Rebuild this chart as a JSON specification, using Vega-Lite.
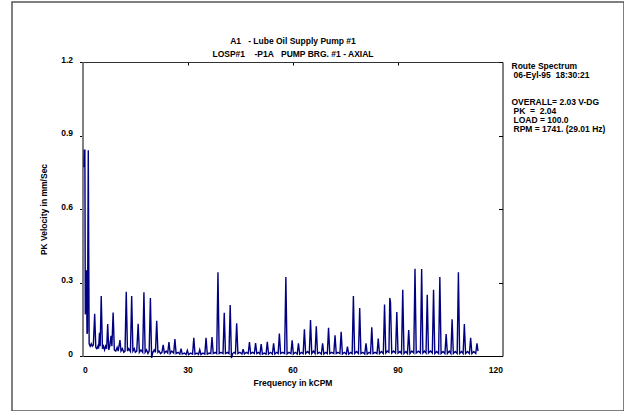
{
  "$schema": "https://vega.github.io/schema/vega-lite/v6.json",
  "width": 612,
  "height": 409,
  "padding": {"left": 12, "top": 2, "right": 0, "bottom": 0},
  "autosize": {"type": "none"},
  "background": "white",
  "config": {
    "view": {"stroke": "#555555", "strokeWidth": 1.5},
    "font": "Liberation Sans",
    "text": {"font": "Liberation Sans", "fontWeight": "bold", "fontSize": 8.5, "lineHeight": 9, "color": "#000000", "align": "left", "baseline": "top"},
    "axis": {
      "labelFont": "Liberation Sans", "labelFontWeight": "bold", "labelFontSize": 8.5, "labelColor": "#000000",
      "titleFont": "Liberation Sans", "titleFontWeight": "bold", "titleFontSize": 8.5, "titleColor": "#000000",
      "grid": false, "tickColor": "#000000", "domainColor": "#000000", "domainWidth": 1, "tickWidth": 1
    }
  },
  "datasets": {
    "info": [{"block": "header"}]
  },
  "layer": [
    {
      "data": {"values": [
        {"f":0.4,"v":0.77},{"f":0.5,"v":0.84},{"f":0.68,"v":0.84},{"f":0.8,"v":0.17},{"f":0.95,"v":0.21},{"f":1.1,"v":0.35},{"f":1.3,"v":0.09},{"f":1.42,"v":0.1},{"f":1.65,"v":0.84},{"f":1.9,"v":0.05},
        {"f":2.2,"v":0.04},{"f":2.5,"v":0.05},{"f":2.8,"v":0.04},{"f":3.1,"v":0.045},{"f":3.48,"v":0.172},{"f":3.8,"v":0.035},{"f":4.1,"v":0.03},{"f":4.4,"v":0.04},{"f":4.6,"v":0.03},{"f":4.85,"v":0.095},
        {"f":5.05,"v":0.04},{"f":5.35,"v":0.245},{"f":5.7,"v":0.03},{"f":6.0,"v":0.04},{"f":6.3,"v":0.025},{"f":6.6,"v":0.04},{"f":6.9,"v":0.03},{"f":7.2,"v":0.13},{"f":7.5,"v":0.025},{"f":7.8,"v":0.04},
        {"f":8.15,"v":0.082},{"f":8.4,"v":0.04},{"f":8.75,"v":0.177},{"f":9.1,"v":0.025},{"f":9.5,"v":0.02},{"f":9.9,"v":0.035},{"f":10.2,"v":0.02},{"f":10.7,"v":0.065},{"f":11.0,"v":0.02},{"f":11.4,"v":0.03},
        {"f":11.8,"v":0.015},{"f":12.15,"v":0.02},{"f":12.5,"v":0.262},{"f":12.85,"v":0.02},{"f":13.2,"v":0.03},{"f":13.7,"v":0.018},{"f":14.05,"v":0.245},{"f":14.4,"v":0.02},{"f":14.8,"v":0.03},{"f":15.1,"v":0.015},
        {"f":15.5,"v":0.02},{"f":15.9,"v":0.131},{"f":16.25,"v":0.015},{"f":16.7,"v":0.025},{"f":17.2,"v":0.015},{"f":17.55,"v":0.26},{"f":17.9,"v":0.015},{"f":18.3,"v":0.025},{"f":18.7,"v":0.01},{"f":19.05,"v":0.02},
        {"f":19.4,"v":0.237},{"f":19.75,"v":-0.008},{"f":20.1,"v":0.015},{"f":20.5,"v":0.025},{"f":20.85,"v":0.015},{"f":21.2,"v":0.144},{"f":21.55,"v":0.015},{"f":21.9,"v":0.02},{"f":22.3,"v":0.01},{"f":22.7,"v":0.015},
        {"f":23.05,"v":0.045},{"f":23.4,"v":0.012},{"f":23.9,"v":0.02},{"f":24.35,"v":0.012},{"f":24.7,"v":0.057},{"f":25.05,"v":0.01},{"f":25.5,"v":0.02},{"f":26.05,"v":0.012},{"f":26.4,"v":0.069},{"f":26.75,"v":0.01},
        {"f":27.3,"v":0.015},{"f":27.8,"v":0.008},{"f":28.15,"v":0.03},{"f":28.5,"v":0.008},{"f":29.1,"v":0.012},{"f":29.6,"v":0.006},{"f":29.95,"v":0.023},{"f":30.3,"v":0.006},{"f":30.9,"v":0.012},{"f":31.45,"v":0.008},
        {"f":31.8,"v":0.074},{"f":32.15,"v":0.008},{"f":32.7,"v":0.012},{"f":33.15,"v":0.006},{"f":33.5,"v":0.025},{"f":33.85,"v":0.006},{"f":34.4,"v":0.012},{"f":34.95,"v":0.008},{"f":35.3,"v":0.074},{"f":35.65,"v":0.008},
        {"f":36.2,"v":0.012},{"f":36.65,"v":0.01},{"f":37.0,"v":0.077},{"f":37.35,"v":0.01},{"f":37.9,"v":0.015},{"f":38.35,"v":0.01},{"f":38.7,"v":0.342},{"f":39.05,"v":0.01},{"f":39.6,"v":0.015},{"f":40.15,"v":0.01},
        {"f":40.5,"v":0.176},{"f":40.85,"v":0.01},{"f":41.4,"v":0.015},{"f":41.85,"v":0.01},{"f":42.2,"v":0.208},{"f":42.55,"v":-0.008},{"f":42.9,"v":0.01},{"f":43.3,"v":0.015},{"f":43.7,"v":0.01},{"f":44.05,"v":0.134},
        {"f":44.4,"v":0.01},{"f":44.95,"v":0.015},{"f":45.55,"v":0.008},{"f":45.9,"v":0.028},{"f":46.25,"v":0.008},{"f":46.8,"v":0.015},{"f":47.35,"v":0.01},{"f":47.7,"v":0.057},{"f":48.05,"v":0.01},{"f":48.6,"v":0.015},
        {"f":49.1,"v":0.01},{"f":49.45,"v":0.053},{"f":49.8,"v":0.01},{"f":50.3,"v":0.015},{"f":50.7,"v":0.008},{"f":51.05,"v":0.049},{"f":51.4,"v":0.008},{"f":51.9,"v":0.012},{"f":52.45,"v":0.008},{"f":52.8,"v":0.058},
        {"f":53.15,"v":0.008},{"f":53.7,"v":0.015},{"f":54.25,"v":0.008},{"f":54.6,"v":0.052},{"f":54.95,"v":0.008},{"f":55.5,"v":0.015},{"f":55.9,"v":0.01},{"f":56.25,"v":0.092},{"f":56.6,"v":0.01},{"f":57.2,"v":0.015},
        {"f":57.75,"v":0.01},{"f":58.1,"v":0.322},{"f":58.45,"v":0.008},{"f":59.0,"v":0.015},{"f":59.55,"v":0.01},{"f":59.9,"v":0.064},{"f":60.25,"v":0.008},{"f":60.8,"v":0.015},{"f":61.35,"v":0.008},{"f":61.7,"v":0.052},
        {"f":62.05,"v":0.008},{"f":62.6,"v":0.015},{"f":63.05,"v":0.01},{"f":63.4,"v":0.109},{"f":63.75,"v":0.01},{"f":64.3,"v":0.018},{"f":64.8,"v":0.01},{"f":65.15,"v":0.147},{"f":65.5,"v":0.01},{"f":66.0,"v":0.02},
        {"f":66.45,"v":0.01},{"f":66.8,"v":0.121},{"f":67.15,"v":0.01},{"f":67.7,"v":0.015},{"f":68.25,"v":0.008},{"f":68.6,"v":0.052},{"f":68.95,"v":0.008},{"f":69.5,"v":0.015},{"f":69.95,"v":0.01},{"f":70.3,"v":0.115},
        {"f":70.65,"v":0.01},{"f":71.2,"v":0.015},{"f":71.8,"v":0.01},{"f":72.15,"v":0.085},{"f":72.5,"v":0.01},{"f":73.0,"v":0.015},{"f":73.55,"v":0.01},{"f":73.9,"v":0.099},{"f":74.25,"v":0.008},{"f":74.8,"v":0.015},
        {"f":75.35,"v":0.008},{"f":75.7,"v":0.038},{"f":76.05,"v":0.008},{"f":76.6,"v":0.015},{"f":77.05,"v":0.01},{"f":77.4,"v":0.245},{"f":77.75,"v":0.01},{"f":78.3,"v":0.018},{"f":78.85,"v":0.01},{"f":79.2,"v":0.196},
        {"f":79.55,"v":0.01},{"f":80.1,"v":0.015},{"f":80.65,"v":0.008},{"f":81.0,"v":0.052},{"f":81.35,"v":0.008},{"f":81.9,"v":0.015},{"f":82.3,"v":0.01},{"f":82.65,"v":0.117},{"f":83.0,"v":0.01},{"f":83.6,"v":0.015},
        {"f":84.15,"v":0.01},{"f":84.5,"v":0.071},{"f":84.85,"v":0.01},{"f":85.4,"v":0.018},{"f":85.95,"v":0.01},{"f":86.3,"v":0.21},{"f":86.65,"v":0.012},{"f":87.1,"v":0.02},{"f":87.55,"v":0.015},{"f":87.8,"v":0.237},
        {"f":88.0,"v":0.22},{"f":88.35,"v":0.012},{"f":88.9,"v":0.02},{"f":89.45,"v":0.012},{"f":89.8,"v":0.18},{"f":90.15,"v":0.012},{"f":90.7,"v":0.018},{"f":91.15,"v":0.01},{"f":91.5,"v":0.27},{"f":91.85,"v":0.01},
        {"f":92.4,"v":0.018},{"f":92.85,"v":0.01},{"f":93.2,"v":0.106},{"f":93.55,"v":0.01},{"f":94.1,"v":0.02},{"f":94.65,"v":0.012},{"f":95.0,"v":0.356},{"f":95.35,"v":0.012},{"f":96.0,"v":0.02},{"f":96.55,"v":0.012},
        {"f":96.9,"v":0.355},{"f":97.25,"v":0.012},{"f":97.7,"v":0.02},{"f":98.15,"v":0.012},{"f":98.5,"v":0.25},{"f":98.85,"v":0.012},{"f":99.4,"v":0.02},{"f":99.95,"v":0.012},{"f":100.3,"v":0.27},{"f":100.65,"v":0.01},
        {"f":101.2,"v":0.018},{"f":101.75,"v":0.01},{"f":102.1,"v":0.322},{"f":102.45,"v":0.01},{"f":103.0,"v":0.018},{"f":103.55,"v":0.01},{"f":103.9,"v":0.09},{"f":104.25,"v":0.01},{"f":104.8,"v":0.02},{"f":105.25,"v":0.01},
        {"f":105.6,"v":0.15},{"f":105.95,"v":0.01},{"f":106.5,"v":0.018},{"f":107.05,"v":0.01},{"f":107.4,"v":0.342},{"f":107.75,"v":0.01},{"f":108.3,"v":0.018},{"f":108.75,"v":0.01},{"f":109.1,"v":0.13},{"f":109.45,"v":0.01},
        {"f":110.0,"v":0.018},{"f":110.55,"v":0.01},{"f":110.9,"v":0.074},{"f":111.25,"v":0.01},{"f":111.8,"v":0.018},{"f":112.35,"v":0.01},{"f":112.7,"v":0.052},{"f":113.0,"v":0.02}
      ]},
      "mark": {"type": "line", "color": "#000080", "strokeWidth": 1.4, "clip": false},
      "encoding": {
        "x": {
          "field": "f", "type": "quantitative",
          "scale": {"domain": [0, 120], "range": [70.5, 490.5], "nice": false, "zero": false},
          "axis": {"orient": "bottom", "offset": -55, "values": [0, 30, 60, 90, 120], "format": "d",
                   "ticks": false, "tickSize": 0, "labelPadding": 9, "title": "Frequency in kCPM", "titlePadding": 4.5}
        },
        "y": {
          "field": "v", "type": "quantitative",
          "scale": {"domain": [0, 1.2], "range": [354, 60], "nice": false, "zero": false},
          "axis": {"orient": "left", "offset": -70.5, "values": [0, 0.3, 0.6, 0.9, 1.2], "format": ".1~f",
                   "tickSize": 3, "labelPadding": 7, "labelOffset": -3, "domainColor": "#808080", "domainWidth": 2,
                   "title": "PK Velocity in mm/Sec", "titlePadding": 12}
        }
      }
    },
    {
      "data": {"name": "info"},
      "mark": {"type": "text", "dx": 9, "dy": 0},
      "encoding": {
        "x": {
          "datum": 120, "type": "quantitative",
          "scale": {"domain": [0, 120], "range": [70.5, 490.5], "nice": false, "zero": false},
          "axis": {"orient": "top", "offset": -60, "values": [30, 60, 90], "labels": false, "tickSize": -3,
                   "domainColor": "#333333",
                   "title": ["A1\u00a0\u00a0\u00a0- Lube Oil Supply Pump #1", "LOSP#1\u00a0\u00a0\u00a0\u00a0-P1A\u00a0\u00a0\u00a0PUMP BRG. #1 - AXIAL"],
                   "titleLineHeight": 13, "titlePadding": 3}
        },
        "y": {
          "datum": 1.2, "type": "quantitative",
          "scale": {"domain": [0, 1.2], "range": [354, 60], "nice": false, "zero": false},
          "axis": {"orient": "right", "offset": -121.5, "values": [0, 0.3, 0.6, 0.9, 1.2], "labels": false,
                   "tickSize": -4, "title": null}
        },
        "text": {"value": "Route Spectrum"}
      }
    },
    {
      "data": {"name": "info"},
      "mark": {"type": "text", "dx": 11, "dy": 9},
      "encoding": {
        "x": {"datum": 120, "type": "quantitative", "axis": null},
        "y": {"datum": 1.2, "type": "quantitative", "axis": null},
        "text": {"value": "06-Eyl-95\u00a0\u00a018:30:21"}
      }
    },
    {
      "data": {"name": "info"},
      "mark": {"type": "text", "dx": 9, "dy": 36},
      "encoding": {
        "x": {"datum": 120, "type": "quantitative", "axis": null},
        "y": {"datum": 1.2, "type": "quantitative", "axis": null},
        "text": {"value": "OVERALL= 2.03 V-DG"}
      }
    },
    {
      "data": {"name": "info"},
      "mark": {"type": "text", "dx": 11, "dy": 45},
      "encoding": {
        "x": {"datum": 120, "type": "quantitative", "axis": null},
        "y": {"datum": 1.2, "type": "quantitative", "axis": null},
        "text": {"value": ["PK\u00a0\u00a0=\u00a0\u00a02.04", "LOAD = 100.0", "RPM = 1741. (29.01 Hz)"]}
      }
    }
  ],
  "resolve": {"axis": {"x": "independent", "y": "independent"}}
}
